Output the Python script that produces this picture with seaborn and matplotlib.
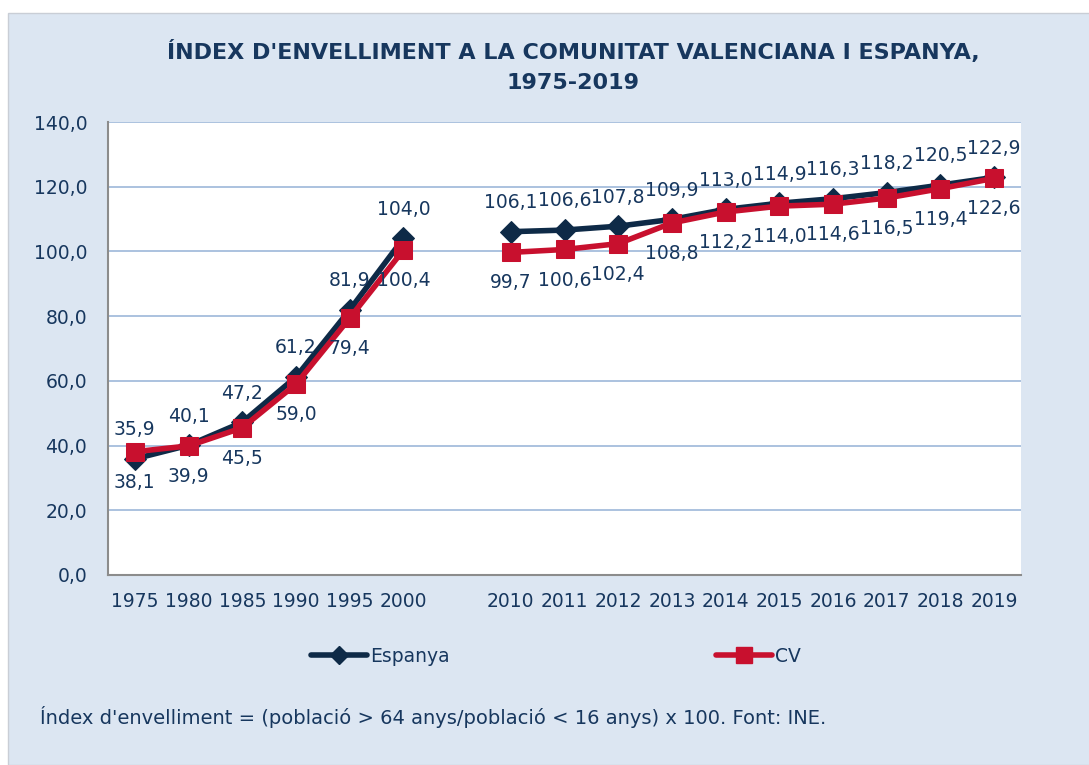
import numpy as np
import pandas as pd
import matplotlib
matplotlib.use('Agg')
import matplotlib.pyplot as plt
from matplotlib.patches import Rectangle
from matplotlib.lines import Line2D
import seaborn as sns

# dades
anys = ['1975', '1980', '1985', '1990', '1995', '2000', '',
        '2010', '2011', '2012', '2013', '2014', '2015', '2016', '2017', '2018', '2019']
espanya = [35.9, 40.1, 47.2, 61.2, 81.9, 104.0, None,
           106.1, 106.6, 107.8, 109.9, 113.0, 114.9, 116.3, 118.2, 120.5, 122.9]
cv = [38.1, 39.9, 45.5, 59.0, 79.4, 100.4, None,
      99.7, 100.6, 102.4, 108.8, 112.2, 114.0, 114.6, 116.5, 119.4, 122.6]
tram = ['a'] * 6 + [None] + ['b'] * 10

NAVY = '#0E2A47'
RED = '#C8102E'
TXT = '#17375E'
PANEL = '#DCE6F2'
GRID = '#9DB7D9'
FS = 13.5

sns.set_style('white')
plt.rcParams['font.family'] = ['DejaVu Sans']

df = pd.DataFrame({'pos': np.arange(len(anys)), 'any': anys,
                   'Espanya': espanya, 'CV': cv, 'tram': tram})
df = df.dropna(subset=['tram'])

fig = plt.figure(figsize=(10.89, 7.65), dpi=100)
fig.patch.set_facecolor('white')
fig.patches.append(Rectangle((8 / 1089, 0), 1.0, 1 - 13 / 765, transform=fig.transFigure,
                             facecolor=PANEL, edgecolor='#C9CED6', linewidth=1.0, zorder=-10))

ax = fig.add_axes([108 / 1089, 1 - 575 / 765, (1021 - 108) / 1089, (575 - 122) / 765])
ax.set_facecolor('white')

for t in ['a', 'b']:
    seg = df[df['tram'] == t]
    sns.lineplot(data=seg, x='pos', y='Espanya', ax=ax, color=NAVY, linewidth=4,
                 marker='D', markersize=11, markeredgecolor=NAVY, zorder=3)
    sns.lineplot(data=seg, x='pos', y='CV', ax=ax, color=RED, linewidth=4,
                 marker='s', markersize=13, markeredgecolor=RED, zorder=4)

def fmt(v):
    return f'{v:.1f}'.replace('.', ',')

for _, r in df.iterrows():
    ax.annotate(fmt(r['Espanya']), (r['pos'], r['Espanya']), xytext=(0, 21),
                textcoords='offset points', ha='center', va='center',
                fontsize=FS, color=TXT, zorder=6)
    ax.annotate(fmt(r['CV']), (r['pos'], r['CV']), xytext=(0, -22),
                textcoords='offset points', ha='center', va='center',
                fontsize=FS, color=TXT, zorder=6)

ax.set_xlim(-0.5, len(anys) - 0.5)
ax.set_ylim(0, 140)
ax.set_yticks(np.arange(0, 141, 20))
ax.set_yticklabels([fmt(v) for v in np.arange(0, 141, 20)])
ax.set_xticks(np.arange(len(anys)))
ax.set_xticklabels(anys)
ax.set_xticks(np.arange(-0.5, len(anys), 1), minor=True)
ax.tick_params(axis='x', which='major', length=0, pad=12, labelsize=FS, labelcolor=TXT)
ax.tick_params(axis='x', which='minor', length=6, width=1.5, color='#8C8C8C', direction='out')
ax.tick_params(axis='y', length=7, width=1.5, color='#8C8C8C', direction='out',
               labelsize=FS, labelcolor=TXT, pad=8)
ax.set_xlabel('')
ax.set_ylabel('')
ax.yaxis.grid(True, color=GRID, linewidth=1.2)
ax.set_axisbelow(True)
for s in ['top', 'right']:
    ax.spines[s].set_visible(False)
for s in ['left', 'bottom']:
    ax.spines[s].set_color('#8C8C8C')
    ax.spines[s].set_linewidth(1.5)

fig.text(573 / 1089, 1 - 52 / 765, "ÍNDEX D'ENVELLIMENT A LA COMUNITAT VALENCIANA I ESPANYA,",
         ha='center', va='center', fontsize=16, fontweight='bold', color=TXT)
fig.text(573 / 1089, 1 - 83 / 765, '1975-2019',
         ha='center', va='center', fontsize=16, fontweight='bold', color=TXT)

handles = [Line2D([], [], color=NAVY, linewidth=4, marker='D', markersize=9),
           Line2D([], [], color=RED, linewidth=4, marker='s', markersize=11)]
fig.legend(handles, ['Espanya', 'CV'], loc='center', ncol=2,
           bbox_to_anchor=(556 / 1089, 1 - 656 / 765), frameon=False,
           fontsize=FS, labelcolor=TXT, handlelength=3.0, handletextpad=0.15,
           columnspacing=14.2)

fig.text(40 / 1089, 1 - 717 / 765,
         "Índex d'envelliment = (població > 64 anys/població < 16 anys) x 100. Font: INE.",
         ha='left', va='center', fontsize=14, color=TXT)

fig.savefig('out.png', dpi=100, facecolor=fig.get_facecolor())
